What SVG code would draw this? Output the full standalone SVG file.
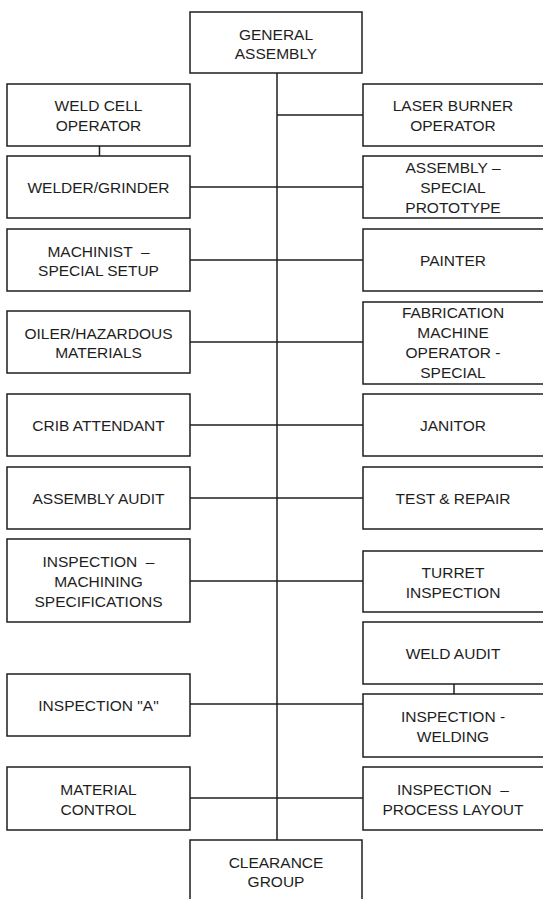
<svg xmlns="http://www.w3.org/2000/svg" width="543" height="899" viewBox="0 0 543 899">
<style>
rect.box{fill:#fff;stroke:#1e1e1e;stroke-width:1.5}
.conn line{stroke:#1e1e1e;stroke-width:1.5}
text{font-family:"Liberation Sans",Arial,sans-serif;font-size:15.5px;fill:#1e1e1e;text-anchor:middle}
</style>
<rect width="543" height="899" fill="#fff"/>
<g class="conn" id="connectors">
<line x1="277" y1="73" x2="277" y2="840"/>
<line x1="277" y1="115" x2="363" y2="115"/>
<line x1="190" y1="187" x2="363" y2="187"/>
<line x1="190" y1="260" x2="363" y2="260"/>
<line x1="190" y1="342" x2="363" y2="342"/>
<line x1="190" y1="425" x2="363" y2="425"/>
<line x1="190" y1="498" x2="363" y2="498"/>
<line x1="190" y1="581" x2="363" y2="581"/>
<line x1="190" y1="704" x2="363" y2="704"/>
<line x1="190" y1="798" x2="363" y2="798"/>
<line x1="99.5" y1="146" x2="99.5" y2="156"/>
<line x1="454" y1="684" x2="454" y2="694"/>
</g>
<g id="general-assembly"><rect class="box" x="190" y="12" width="172" height="61"/><text x="276"><tspan x="276" y="39.5">GENERAL</tspan><tspan x="276" y="58.5">ASSEMBLY</tspan></text></g>
<g id="clearance-group"><rect class="box" x="190" y="840" width="172" height="80"/><text x="276"><tspan x="276" y="867.5">CLEARANCE</tspan><tspan x="276" y="886.5">GROUP</tspan></text></g>

<g id="weld-cell-operator"><rect class="box" x="7" y="84" width="183" height="62"/><text><tspan x="98.5" y="111">WELD CELL</tspan><tspan x="98.5" y="130.5">OPERATOR</tspan></text></g>
<g id="welder-grinder"><rect class="box" x="7" y="156" width="183" height="62"/><text x="98.5" y="193">WELDER/GRINDER</text></g>
<g id="machinist"><rect class="box" x="7" y="229" width="183" height="62"/><text xml:space="preserve"><tspan x="98.5" y="256.5">MACHINIST  –</tspan><tspan x="98.5" y="276">SPECIAL SETUP</tspan></text></g>
<g id="oiler"><rect class="box" x="7" y="311" width="183" height="62"/><text><tspan x="98.5" y="338.5">OILER/HAZARDOUS</tspan><tspan x="98.5" y="358">MATERIALS</tspan></text></g>
<g id="crib-attendant"><rect class="box" x="7" y="394" width="183" height="62"/><text x="98.5" y="431">CRIB ATTENDANT</text></g>
<g id="assembly-audit"><rect class="box" x="7" y="467" width="183" height="62"/><text x="98.5" y="504">ASSEMBLY AUDIT</text></g>
<g id="inspection-machining"><rect class="box" x="7" y="539" width="183" height="83"/><text xml:space="preserve"><tspan x="98.5" y="567">INSPECTION  –</tspan><tspan x="98.5" y="587">MACHINING</tspan><tspan x="98.5" y="607">SPECIFICATIONS</tspan></text></g>
<g id="inspection-a"><rect class="box" x="7" y="674" width="183" height="62"/><text x="98.5" y="711">INSPECTION "A"</text></g>
<g id="material-control"><rect class="box" x="7" y="767" width="183" height="63"/><text><tspan x="98.5" y="795">MATERIAL</tspan><tspan x="98.5" y="814.5">CONTROL</tspan></text></g>

<g id="laser-burner"><rect class="box" x="363" y="84" width="182" height="62"/><text><tspan x="453" y="111">LASER BURNER</tspan><tspan x="453" y="130.5">OPERATOR</tspan></text></g>
<g id="assembly-special"><rect class="box" x="363" y="156" width="182" height="62"/><text><tspan x="453" y="173">ASSEMBLY –</tspan><tspan x="453" y="193">SPECIAL</tspan><tspan x="453" y="213">PROTOTYPE</tspan></text></g>
<g id="painter"><rect class="box" x="363" y="229" width="182" height="62"/><text x="453" y="266">PAINTER</text></g>
<g id="fabrication"><rect class="box" x="363" y="302" width="182" height="82"/><text><tspan x="453" y="318">FABRICATION</tspan><tspan x="453" y="338">MACHINE</tspan><tspan x="453" y="358">OPERATOR -</tspan><tspan x="453" y="378">SPECIAL</tspan></text></g>
<g id="janitor"><rect class="box" x="363" y="394" width="182" height="62"/><text x="453" y="431">JANITOR</text></g>
<g id="test-repair"><rect class="box" x="363" y="467" width="182" height="62"/><text x="453" y="504">TEST &amp; REPAIR</text></g>
<g id="turret-inspection"><rect class="box" x="363" y="551" width="182" height="61"/><text><tspan x="453" y="578">TURRET</tspan><tspan x="453" y="597.5">INSPECTION</tspan></text></g>
<g id="weld-audit"><rect class="box" x="363" y="622" width="182" height="62"/><text x="453" y="659">WELD AUDIT</text></g>
<g id="inspection-welding"><rect class="box" x="363" y="694" width="182" height="63"/><text><tspan x="453" y="722">INSPECTION -</tspan><tspan x="453" y="741.5">WELDING</tspan></text></g>
<g id="inspection-process"><rect class="box" x="363" y="767" width="182" height="63"/><text xml:space="preserve"><tspan x="453" y="795">INSPECTION  –</tspan><tspan x="453" y="814.5">PROCESS LAYOUT</tspan></text></g>
</svg>
